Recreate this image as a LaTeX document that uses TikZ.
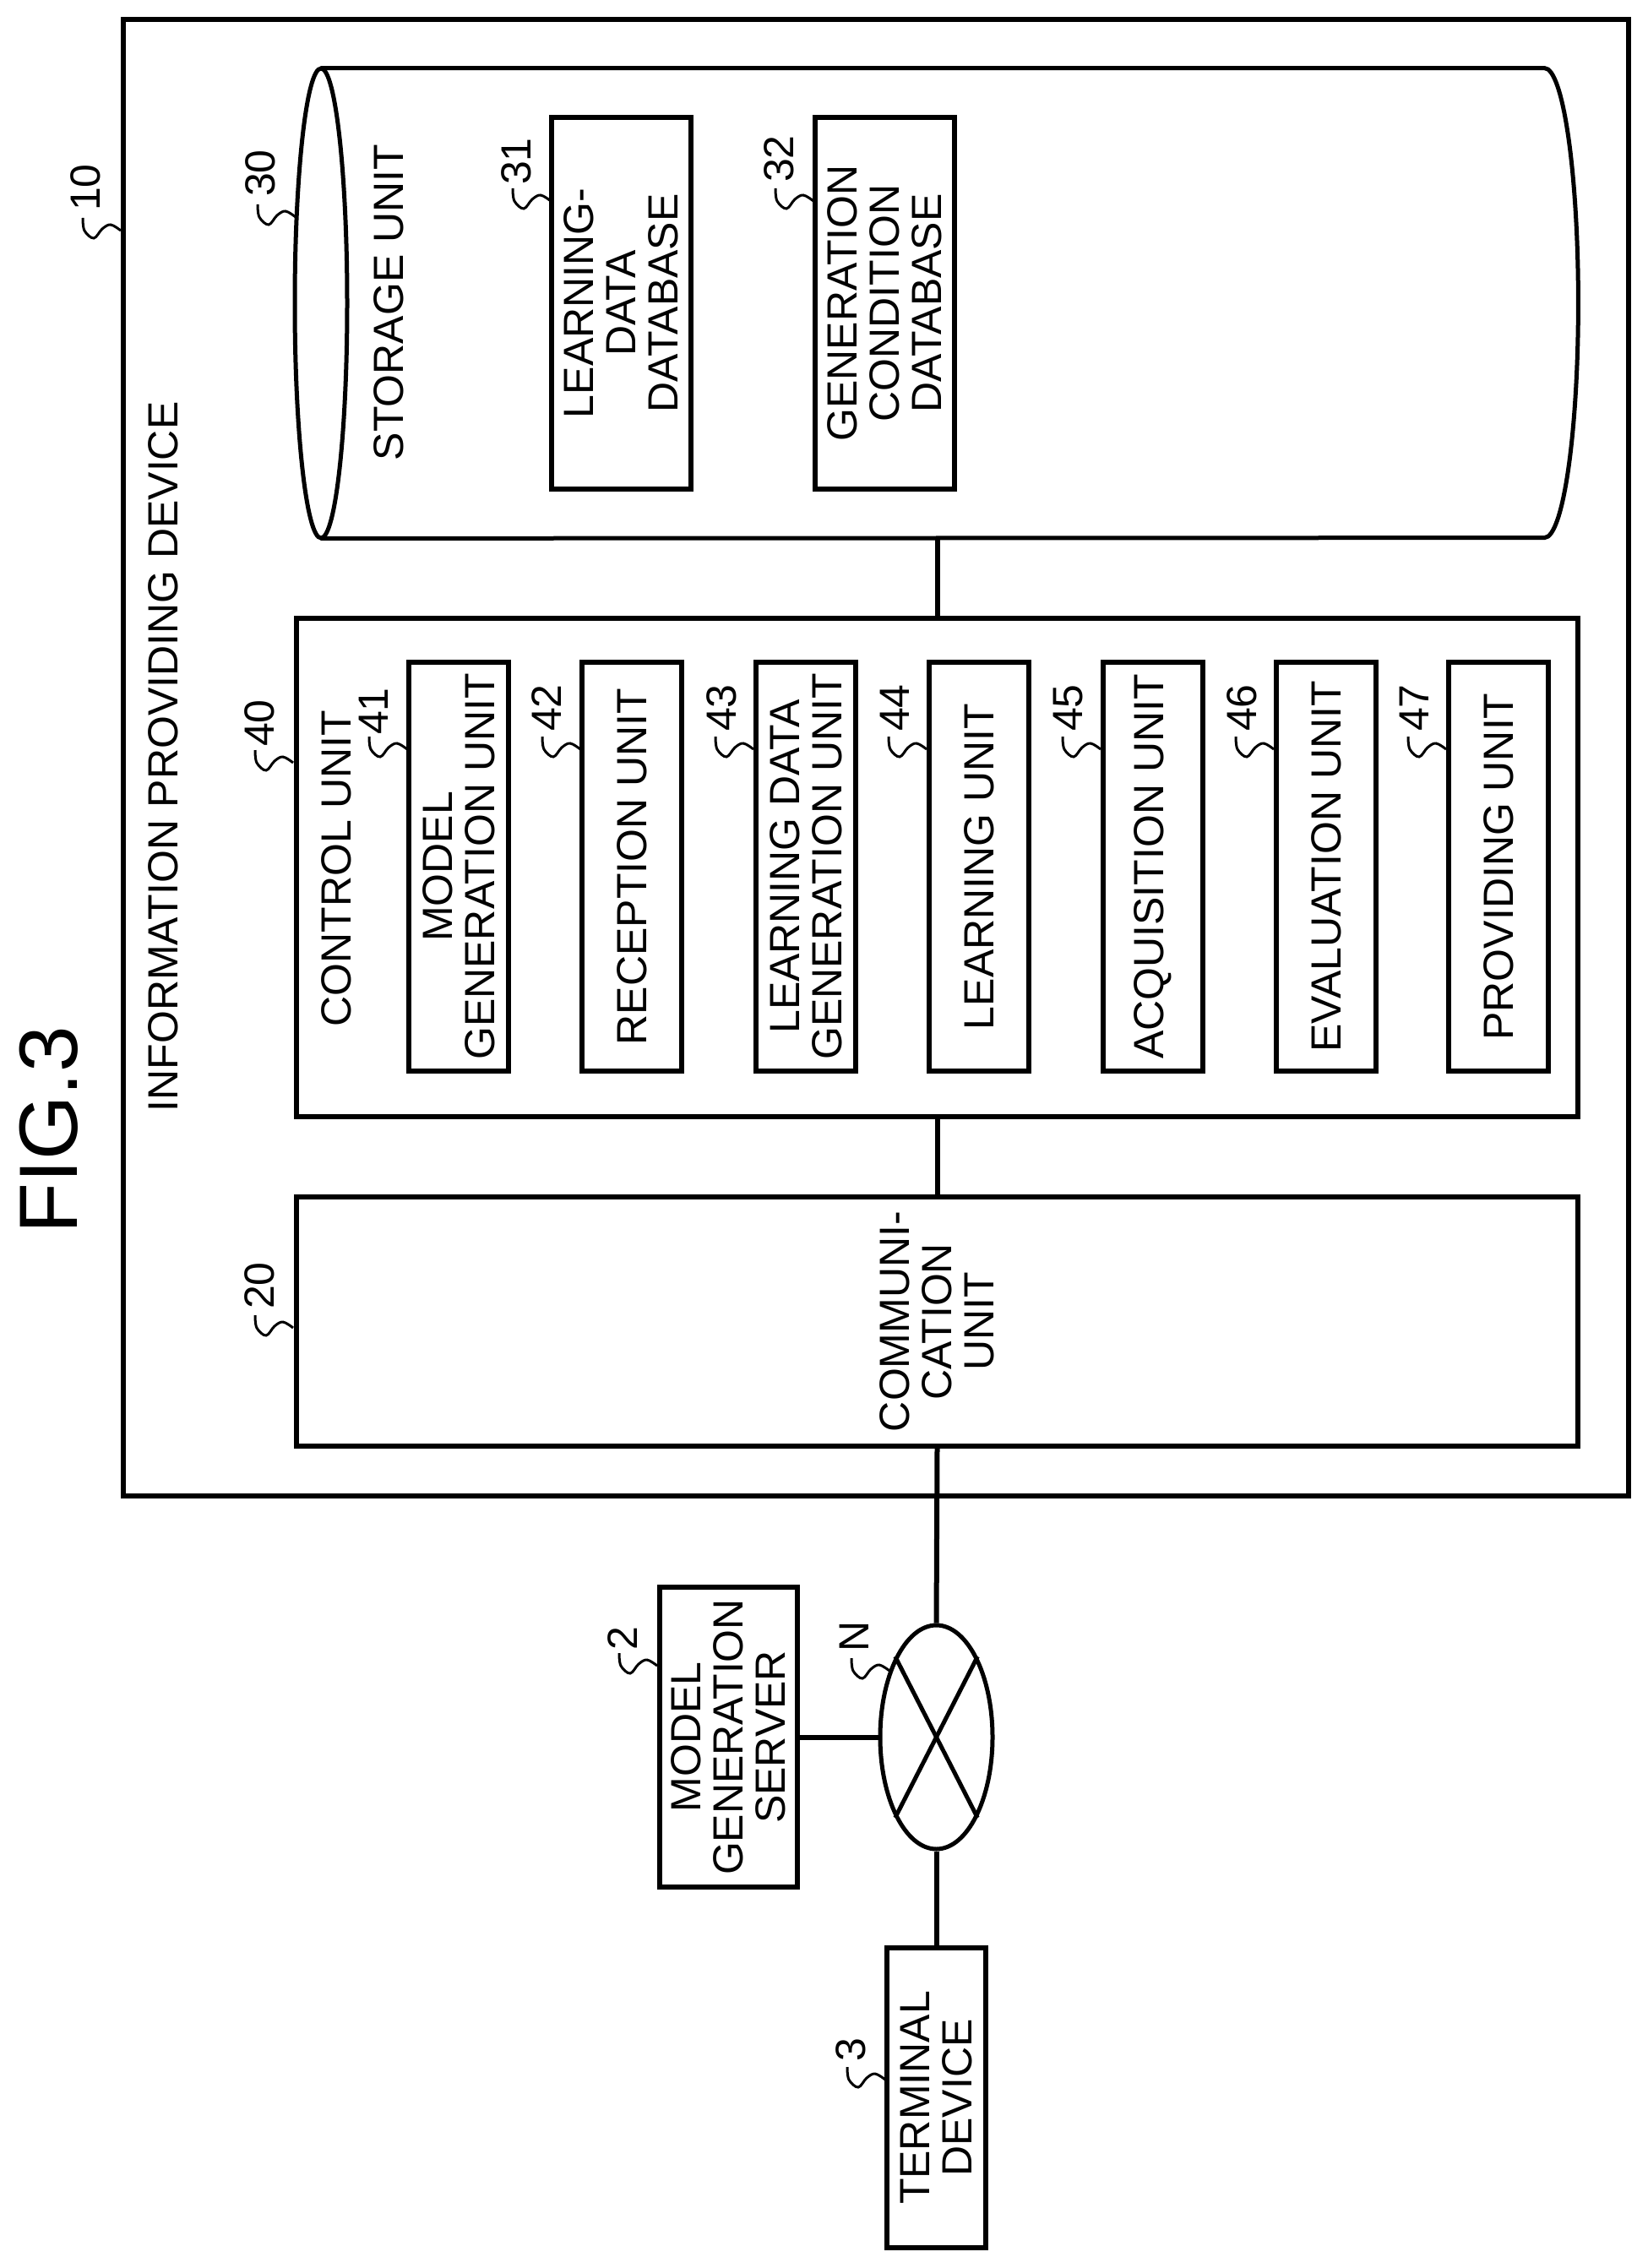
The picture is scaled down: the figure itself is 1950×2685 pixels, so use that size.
\documentclass[tikz,border=0pt]{standalone}
\usepackage{fontspec}
\setmainfont{Liberation Sans}
\usetikzlibrary{shapes.geometric}
\tikzset{boxline/.style={draw,line width=3pt}}
\tikzset{wire/.style={draw,line width=3pt}}
\tikzset{sideways/.style={rotate=90,align=center,inner sep=0pt,font=\fontsize{25}{25}\selectfont}}
\tikzset{unitbox/.style={boxline,sideways,minimum width=242pt,minimum height=59pt}}
\tikzset{dbbox/.style={boxline,sideways,minimum width=220pt,minimum height=82.5pt}}
\tikzset{reflabel/.style={rotate=90,inner sep=0pt,font=\fontsize{25}{25}\selectfont}}
\tikzset{leadmark/.pic={
    \draw[line width=1.5pt] plot[smooth,tension=0.6] coordinates {(0,0) (-12,-7) (-22,-2) (-32,9) (-43,0) (-45,-15)};
}}

\begin{document}
\begin{tikzpicture}[x=0.5pt,y=-0.5pt]
    \useasboundingbox (0,0) rectangle (1950,2685);

    \node[sideways,font=\fontsize{49}{49}\selectfont] (fig) at (58,1338) {FIG.3};
    \node[boxline,minimum width=891pt,minimum height=874pt,inner sep=0pt] (device) at (1036.75,897) {};
    \node[sideways] (devname) at (193,896) {INFORMATION PROVIDING DEVICE};

    % storage outline
    \node[inner sep=0pt,minimum width=724pt,minimum height=278pt] (store) at (1104,359) {};
    \draw[line width=2.5pt] (380,359) ellipse[x radius=15.5pt,y radius=139pt];
    \draw[line width=2.5pt] (store.north west) -- (store.north east) arc[start angle=90,end angle=-90,x radius=20pt,y radius=139pt] -- (store.south west);
    \node[sideways] (storename) at (460,358) {STORAGE UNIT};
    \node[dbbox] (db31) at (735.5,359) {LEARNING-\\DATA\\DATABASE};
    \node[dbbox] (db32) at (1047.5,359) {GENERATION\\CONDITION\\DATABASE};

    \node[boxline,sideways,minimum width=295pt,minimum height=758.5pt] (ctl) at (1109.5,1027) {};
    \node[sideways] (ctlname) at (398,1028) {CONTROL UNIT};
    \foreach \n/\x/\txt in {41/543/{MODEL\\GENERATION UNIT},42/748/{RECEPTION UNIT},43/954/{LEARNING DATA\\GENERATION UNIT},44/1159/{LEARNING UNIT},45/1365/{ACQUISITION UNIT},46/1570/{EVALUATION UNIT},47/1774/{PROVIDING UNIT}}{
        \node[unitbox] (unit\n) at (\x,1026) {\txt};
    }

    \node[boxline,sideways,minimum width=147.5pt,minimum height=758.5pt] (comm) at (1109.5,1564.5) {COMMUNI-\\CATION\\UNIT};

    \node[draw,ellipse,line width=2.5pt,inner sep=0pt,minimum width=66.5pt,minimum height=132.5pt] (netw) at (1108.5,2056.5) {};
    \draw[line width=2.5pt] (netw.north west) -- (netw.south east);
    \draw[line width=2.5pt] (netw.north east) -- (netw.south west);
    \node[boxline,sideways,minimum width=177.5pt,minimum height=81.5pt] (server) at (862.5,2056.5) {MODEL\\GENERATION\\SERVER};
    \node[boxline,sideways,minimum width=177.5pt,minimum height=58.5pt] (term) at (1108.5,2483.5) {TERMINAL\\DEVICE};

    \draw[wire] (ctl.east |- store.south) -- (ctl.east);
    \draw[wire] (ctl.west) -- (comm.east);
    \draw[wire] (comm.west) -- (netw.north);
    \draw[wire] (netw.west) -- (server.south);
    \draw[wire] (netw.south) -- (term.east);

    % reference numbers
    \foreach \n/\x/\y/\a/\b in {10/143/273/101/222,30/350/257/308/205,31/652/238/611/191,32/963/238/922/188,40/347/903/307/856,41/482/887/442/842,42/687/887/647/838,43/892/887/854/838,44/1097/887/1059/838,45/1303/887/1265/838,46/1508/887/1470/838,47/1712/887/1674/838,20/347/1572/307/1522,2/778/1972/737/1940,3/1048/2462/1007/2427,N/1053/1978/1011/1937}{
        \pic at (\x,\y) {leadmark};
        \node[reflabel] (ref\n) at (\a,\b) {\n};
    }
\end{tikzpicture}
\end{document}
